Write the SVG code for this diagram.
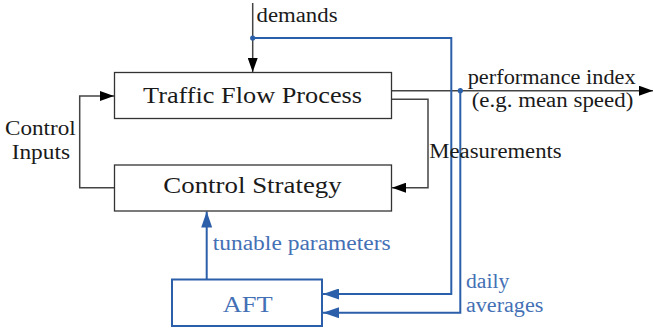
<svg xmlns="http://www.w3.org/2000/svg" width="653" height="335" viewBox="0 0 653 335">
  <style>
    .box { fill: #ffffff; stroke: #333333; stroke-width: 1.3; }
    .abox { fill: #ffffff; stroke: #2b5fa9; stroke-width: 2; }
    .k { fill: none; stroke: #444444; stroke-width: 1.5; }
    .b { fill: none; stroke: #2b5fa9; stroke-width: 2; }
  </style>
  <defs>
    <marker id="ak" markerUnits="userSpaceOnUse" viewBox="0 0 14 10" refX="14" refY="5" markerWidth="14" markerHeight="10" orient="auto">
      <path d="M0,0 L14,5 L0,10 z" fill="#000000"/>
    </marker>
    <marker id="ab" markerUnits="userSpaceOnUse" viewBox="0 0 16 11" refX="16" refY="5.5" markerWidth="16" markerHeight="11" orient="auto">
      <path d="M0,0 L16,5.5 L0,11 z" fill="#2b5fa9"/>
    </marker>
  </defs>

  <g id="connectors">
    <path class="k" d="M252.7,3 V72" marker-end="url(#ak)"/>
    <path class="k" d="M391.5,90.7 H653" marker-end="url(#ak)"/>
    <path class="k" d="M391.5,99.3 H428 V187.7 H392" marker-end="url(#ak)"/>
    <path class="k" d="M114.5,187.7 H79.7 V96 H114" marker-end="url(#ak)"/>
    <path class="b" d="M252.7,38 H451.3 V294 H323" marker-end="url(#ab)"/>
    <path class="b" d="M460.3,90.7 V312.7 H323" marker-end="url(#ab)"/>
    <path class="b" d="M206.7,279.5 V211.5" marker-end="url(#ab)"/>
    <circle cx="252.7" cy="38" r="2.6" fill="#2b5fa9"/>
    <circle cx="460.3" cy="90.7" r="2.6" fill="#2b5fa9"/>
  </g>

  <g id="labels" font-family="Liberation Serif" font-size="20" fill="#1a1a1a">
    <text x="256.5" y="22" textLength="81" lengthAdjust="spacingAndGlyphs">demands</text>
    <text x="467.7" y="83.5" textLength="168" lengthAdjust="spacingAndGlyphs">performance index</text>
    <text x="471.7" y="107" textLength="161.6" lengthAdjust="spacingAndGlyphs">(e.g. mean speed)</text>
    <text x="429.3" y="158.3" textLength="132.4" lengthAdjust="spacingAndGlyphs">Measurements</text>
    <text x="5" y="135" textLength="70.7" lengthAdjust="spacingAndGlyphs">Control</text>
    <text x="11.7" y="159" textLength="58.3" lengthAdjust="spacingAndGlyphs">Inputs</text>
    <text x="212.7" y="250" fill="#4470b5" textLength="178" lengthAdjust="spacingAndGlyphs">tunable parameters</text>
    <text x="466" y="287.5" fill="#4470b5" textLength="43.3" lengthAdjust="spacingAndGlyphs">daily</text>
    <text x="466" y="311.5" fill="#4470b5" textLength="77.3" lengthAdjust="spacingAndGlyphs">averages</text>
  </g>

  <g id="traffic-flow-process">
    <rect class="box" x="114.5" y="72.5" width="277" height="46"/>
    <text x="143" y="103.3" font-family="Liberation Serif" font-size="23" fill="#1a1a1a" textLength="219" lengthAdjust="spacingAndGlyphs">Traffic Flow Process</text>
  </g>

  <g id="control-strategy">
    <rect class="box" x="114.5" y="165" width="277" height="46"/>
    <text x="163.3" y="193.3" font-family="Liberation Serif" font-size="23" fill="#1a1a1a" textLength="178.4" lengthAdjust="spacingAndGlyphs">Control Strategy</text>
  </g>

  <g id="aft">
    <rect class="abox" x="172" y="279.5" width="150" height="46.5"/>
    <text x="222.7" y="311.7" font-family="Liberation Serif" font-size="23" fill="#4470b5" textLength="50" lengthAdjust="spacingAndGlyphs">AFT</text>
  </g>
</svg>
